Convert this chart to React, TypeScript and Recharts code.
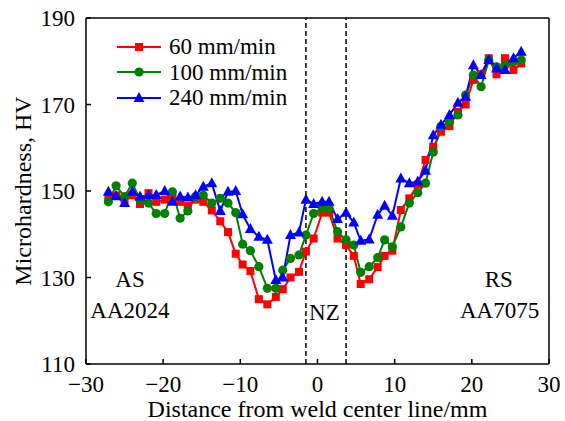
import { LineChart, Line, XAxis, YAxis, ReferenceLine, ReferenceDot, Legend } from 'recharts';

// measurement positions (mm from weld center line)
const positions = [
  -27.1, -26.1, -25.0, -24.0, -23.0, -21.9, -20.9, -19.8, -18.8, -17.8, -16.8, -15.8, -14.8, -13.7, -12.6, -11.6, -10.6, -9.7, -8.7, -7.6, -6.5, -5.4, -4.5, -3.5, -2.4, -1.5, -0.5,
  0.6, 1.5, 2.6, 3.7, 4.7, 5.6, 6.7, 7.8, 8.7, 9.7, 10.8, 11.9, 13.0, 14.0, 15.0, 16.0, 17.1, 18.2, 19.2, 20.2, 21.2, 22.2, 23.2, 24.3, 25.4, 26.4,
];

// 60 mm/min
const hv60 = [
  148.5, 149, 148, 149, 147, 149.5, 147.5, 148, 148.5, 147.5, 146.5, 148, 147.5, 145.5, 143, 140.5, 135.5, 133, 131.5, 125, 123.8, 125.5, 127.3, 130, 131.3, 136, 139,
  145, 145, 139, 137.5, 135, 128.5, 129.6, 132.4, 135, 136.2, 145.6, 148.3, 151.5, 157.2, 160.2, 163.7, 165, 168.3, 170, 175.7, 177, 180.7, 177, 180.7, 178, 179.5,
];

// 100 mm/min
const hv100 = [
  147.5, 151.2, 148.7, 151.8, 148, 147.2, 144.8, 144.8, 149.8, 143.7, 145.4, 148.7, 149, 147.2, 148.3, 147.2, 145, 137.7, 136.2, 132.5, 127.5, 127.5, 131.7, 134.4, 135.2, 139.8, 144.8,
  146, 146, 140.6, 138.7, 137.5, 131.2, 132.5, 134.6, 138.7, 137.1, 141.7, 147.2, 149.6, 151.8, 159, 164.9, 166, 167.6, 172.2, 176.8, 174.1, 180.3, 178.7, 179.1, 179.9, 180.3,
];

// 240 mm/min
const hv240 = [
  149.8, 148.8, 147.2, 149.8, 148.7, 149, 149.1, 150, 147.5, 148.7, 148.5, 149, 151, 151.8, 145.4, 149.8, 150, 144.6, 141.2, 139.4, 138.7, 129.4, 130, 139.8, 140.4, 148, 147,
  147.5, 147.5, 143.5, 145, 142.7, 138.5, 138.8, 144.5, 146.6, 144.3, 152.9, 151.8, 152.2, 154.7, 162.9, 165.3, 167.6, 170.4, 171.8, 179.1, 176.8, 180.3, 178.3, 178, 180.7, 182.2,
];

const xTicks = [-30, -20, -10, 0, 10, 20, 30];
const yTicks = [110, 130, 150, 170, 190];
const zoneEdges = [-1.5, 3.7];

const series = [
  { key: 'hv60', name: '60 mm/min', color: '#ff0000', marker: 'square' },
  { key: 'hv100', name: '100 mm/min', color: '#008000', marker: 'circle' },
  { key: 'hv240', name: '240 mm/min', color: '#0000ff', marker: 'triangle' },
];

const data = positions.map((x, i) => ({ x, hv60: hv60[i], hv100: hv100[i], hv240: hv240[i] }));

const font = "'Liberation Serif', 'Times New Roman', Times, serif";

function marker(kind: string, color: string, cx: number, cy: number, key?: string) {
  if (kind === 'square') return <rect key={key} x={cx - 4} y={cy - 4} width={8} height={8} fill={color} />;
  if (kind === 'circle') return <circle key={key} cx={cx} cy={cy} r={4.6} fill={color} />;
  return <polygon key={key} points={`${cx},${cy - 6} ${cx - 5.5},${cy + 4} ${cx + 5.5},${cy + 4}`} fill={color} />;
}

const makeDot = (kind: string, color: string) => (props: any) => {
  const { cx, cy, index } = props;
  if (cx == null || cy == null) return <g key={`${kind}-${index}`} />;
  return marker(kind, color, cx, cy, `${kind}-${index}`);
};

function LegendBox() {
  return (
    <div style={{ fontFamily: font, fontSize: 23, color: '#000', lineHeight: '25.5px' }}>
      {series.map(s => (
        <div key={s.key} style={{ display: 'flex', alignItems: 'center', height: 25.5 }}>
          <svg width={44} height={14} style={{ marginRight: 8 }}>
            <line x1={0} y1={7} x2={44} y2={7} stroke={s.color} strokeWidth={2} />
            {marker(s.marker, s.color, 22, 7)}
          </svg>
          <span>{s.name}</span>
        </div>
      ))}
    </div>
  );
}

const annotations = [
  { x: -24.3, y: 129.7, text: 'AS' },
  { x: -24.3, y: 122.5, text: 'AA2024' },
  { x: 0.9, y: 122, text: 'NZ' },
  { x: 23.5, y: 129.7, text: 'RS' },
  { x: 23.6, y: 122.5, text: 'AA7075' },
];

export default function App() {
  const axisStyle = { stroke: '#000', strokeWidth: 1.5 };
  const textStyle = { fill: '#000', fontSize: 23, fontFamily: font };
  return (
    <div style={{ position: 'absolute', left: 0, top: 0, width: 565, height: 421, background: '#fff' }}>
      <LineChart width={565} height={421} data={data} margin={{ top: 18, right: 16, bottom: 0, left: 0 }}>
        <XAxis
          dataKey="x"
          type="number"
          domain={[-30, 30]}
          ticks={xTicks}
          interval={0}
          height={57}
          tickSize={-5}
          tickMargin={17}
          axisLine={axisStyle}
          tickLine={axisStyle}
          tick={textStyle}
          tickFormatter={(v: number) => String(v).replace('-', '\u2212')}
          label={{ value: 'Distance from weld center line/mm', position: 'insideBottom', offset: 4, ...textStyle, fontSize: 24 }}
        />
        <YAxis
          type="number"
          domain={[110, 190]}
          ticks={yTicks}
          interval={0}
          width={86}
          tickSize={-5}
          tickMargin={16}
          axisLine={axisStyle}
          tickLine={axisStyle}
          tick={textStyle}
          label={{ value: 'Microhardness, HV', angle: -90, position: 'insideLeft', offset: 22, ...textStyle, fontSize: 24, style: { textAnchor: 'middle' } }}
        />
        <ReferenceLine y={190} stroke="#000" strokeWidth={1.5} />
        <ReferenceLine x={30} stroke="#000" strokeWidth={1.5} />
        {zoneEdges.map(z => (
          <ReferenceLine key={z} x={z} stroke="#000" strokeWidth={1.5} strokeDasharray="5 3" />
        ))}
        {annotations.map(a => (
          <ReferenceDot
            key={a.text}
            x={a.x}
            y={a.y}
            r={0}
            stroke="none"
            fill="none"
            label={{ value: a.text, position: 'center', ...textStyle }}
          />
        ))}
        <Legend
          layout="horizontal"
          verticalAlign="middle"
          align="center"
          content={() => <LegendBox />}
          wrapperStyle={{ left: 117, top: 34, width: 'auto', height: 'auto' }}
        />
        {series.map(s => (
          <Line
            key={s.key}
            dataKey={s.key}
            name={s.name}
            stroke={s.color}
            strokeWidth={2}
            dot={makeDot(s.marker, s.color)}
            activeDot={false}
            isAnimationActive={false}
            type="linear"
          />
        ))}
      </LineChart>
    </div>
  );
}
